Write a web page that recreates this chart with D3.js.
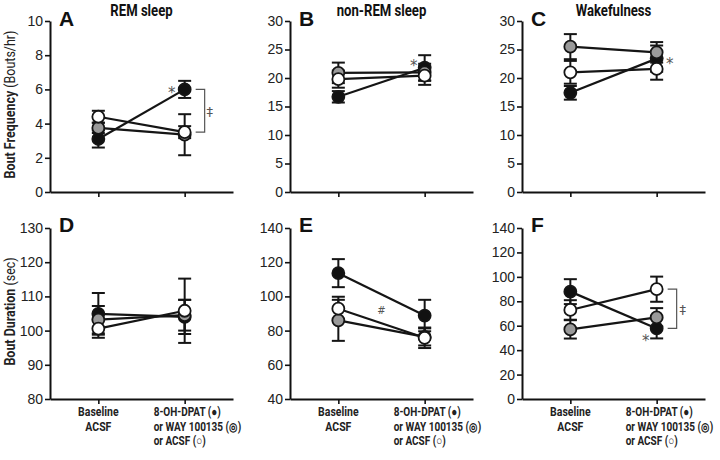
<!DOCTYPE html>
<html>
<head>
<meta charset="utf-8">
<script src="https://cdn.jsdelivr.net/npm/d3@7"></script>
<style>
	body { margin: 0; background: #fff; }
	.cond { font-family: "Roboto", "Open Sans", sans-serif; }
</style>
</head>
<body>
<script>
// DATA

var panels = ['A', 'B', 'C', 'D', 'E', 'F'];
var titles = ['REM sleep', 'non-REM sleep', 'Wakefulness'];
var conditions = ['Baseline', 'Post'];

// y tick values per panel (first/last = axis domain)
var yTicks = [
	[0, 2, 4, 6, 8, 10],
	[0, 5, 10, 15, 20, 25, 30],
	[0, 5, 10, 15, 20, 25, 30],
	[80, 90, 100, 110, 120, 130],
	[40, 60, 80, 100, 120, 140],
	[0, 20, 40, 60, 80, 100, 120, 140]
];

// 8-OH-DPAT (black)
var dpatMean = [[3.1, 6.0], [16.7, 21.8], [17.4, 23.4], [104.9, 104.0], [113.6, 88.8], [87.9, 57.8]];
var dpatErr  = [[0.5, 0.5], [1.0, 2.2], [1.2, 2.3], [6.1, 5.0], [8.2, 9.2], [10.2, 8.2]];
// WAY 100135 (gray)
var wayMean = [[3.75, 3.35], [20.9, 21.0], [25.5, 24.5], [103.2, 104.5], [86.0, 76.3], [57.0, 66.9]];
var wayErr  = [[0.3, 1.2], [1.8, 1.5], [2.2, 1.8], [4.0, 4.5], [12.0, 5.0], [7.5, 7.5]];
// ACSF (white)
var acsfMean = [[4.4, 3.5], [19.8, 20.4], [21.0, 21.6], [100.6, 105.8], [92.8, 75.8], [72.9, 89.9]];
var acsfErr  = [[0.35, 0.35], [1.5, 1.6], [2.0, 1.9], [2.7, 9.4], [7.0, 6.0], [8.0, 10.3]];

var yLabels = [['Bout Frequency', ' (Bouts/hr)'], ['Bout Duration', ' (sec)']];
var xLabelBase = ['Baseline', 'ACSF'];
var xLabelPost = ['8-OH-DPAT (\u25CF)', 'or WAY 100135 (\u25CE)', 'or ACSF (\u25CB)'];

// significance marks: panel, text, condition, value
var marks = [
	{ p: 0, t: '*', c: 1, v: 6.0, dx: -13, dy: 9 },
	{ p: 0, t: '\u2021', c: 1, v: 4.75, dx: 25, dy: 5 },
	{ p: 1, t: '*', c: 1, v: 21.8, dx: -11, dy: 3 },
	{ p: 2, t: '*', c: 1, v: 23.4, dx: 13, dy: 10 },
	{ p: 4, t: '#', c: 0.5, v: 92, dx: 0, dy: 4 },
	{ p: 5, t: '*', c: 1, v: 57.8, dx: -11, dy: 18 },
	{ p: 5, t: '\u2021', c: 1, v: 74, dx: 26, dy: 5 }
];
// brackets: panel, from value, to value
var brackets = [
	{ p: 0, a: 6.0, b: 3.5 },
	{ p: 5, a: 89.9, b: 57.8 }
];

var series = [
	{ mean: dpatMean, err: dpatErr, fill: '#111' },
	{ mean: wayMean, err: wayErr, fill: '#9a9a9a' },
	{ mean: acsfMean, err: acsfErr, fill: '#fff' }
];

// LAYOUT

var colX = [50, 290, 522];
var rowY = [21, 228];
var plotW = 183, plotH = 171;

var svg = d3.select('body').append('svg')
	.attr('width', 720)
	.attr('height', 460);

// narrow text: squeeze horizontally since no condensed font is installed
function narrow(sel, x, y, rot, sx) {
	return sel.attr('transform', 'translate(' + x + ',' + y + ')' + (rot ? ' rotate(' + rot + ')' : '') + ' scale(' + sx + ',1)');
}

panels.forEach(function(letter, i) {
	var col = i % 3, row = Math.floor(i / 3);
	var x0 = colX[col], y0 = rowY[row];
	var ticks = yTicks[i];

	var x = d3.scalePoint()
		.domain(conditions)
		.range([x0, x0 + plotW])
		.padding(0.56);
	var xPos = function(c) { return x(conditions[0]) + c * (x(conditions[1]) - x(conditions[0])); };

	var y = d3.scaleLinear()
		.domain([ticks[0], ticks[ticks.length - 1]])
		.range([y0 + plotH, y0]);

	var g = svg.append('g');

	// axes
	var ya = g.append('g')
		.attr('transform', 'translate(' + x0 + ',0)')
		.call(d3.axisLeft(y).tickValues(ticks).tickSize(5).tickSizeOuter(0).tickPadding(2));
	var xa = g.append('g')
		.attr('transform', 'translate(0,' + (y0 + plotH) + ')')
		.call(d3.axisBottom(x).tickSize(5).tickSizeOuter(0).tickFormat(''));
	[ya, xa].forEach(function(a) {
		a.select('.domain').attr('stroke', '#111').attr('stroke-width', 2);
		a.selectAll('.tick line').attr('stroke', '#111').attr('stroke-width', 1.6);
	});
	ya.selectAll('.tick text')
		.attr('font-family', 'Liberation Sans, Arial, sans-serif')
		.attr('font-size', 14)
		.attr('fill', '#222');

	// lines
	var line = d3.line()
		.x(function(d, j) { return x(conditions[j]); })
		.y(function(d) { return y(d); });
	series.forEach(function(s) {
		g.append('path')
			.attr('d', line(s.mean[i]))
			.attr('fill', 'none')
			.attr('stroke', '#151515')
			.attr('stroke-width', 2.2);
	});

	// error bars
	series.forEach(function(s) {
		s.mean[i].forEach(function(m, j) {
			var cx = x(conditions[j]), e = s.err[i][j];
			var eg = g.append('g').attr('stroke', '#151515').attr('stroke-width', 2);
			eg.append('line').attr('x1', cx).attr('x2', cx).attr('y1', y(m - e)).attr('y2', y(m + e));
			[m - e, m + e].forEach(function(v) {
				eg.append('line').attr('x1', cx - 6.5).attr('x2', cx + 6.5).attr('y1', y(v)).attr('y2', y(v));
			});
		});
	});

	// markers
	series.forEach(function(s) {
		g.selectAll(null)
			.data(s.mean[i])
			.enter().append('circle')
			.attr('cx', function(d, j) { return x(conditions[j]); })
			.attr('cy', function(d) { return y(d); })
			.attr('r', 6)
			.attr('fill', s.fill)
			.attr('stroke', '#151515')
			.attr('stroke-width', 1.8);
	});

	// panel letter
	g.append('text')
		.attr('x', x0 + 9)
		.attr('y', row === 0 ? 26 : 232)
		.attr('font-family', 'Liberation Sans, Arial, sans-serif')
		.attr('font-weight', 'bold')
		.attr('font-size', 21)
		.attr('fill', '#111')
		.text(letter);

	// column title
	if (row === 0) {
		narrow(g.append('text'), x0 + plotW / 2, 16, 0, 0.82)
			.attr('class', 'cond')
			.attr('text-anchor', 'middle')
			.attr('font-weight', 'bold')
			.attr('font-size', 16)
			.attr('fill', '#111')
			.text(titles[col]);
	}

	// x labels on bottom row
	if (row === 1) {
		xLabelBase.forEach(function(t, k) {
			narrow(g.append('text'), x(conditions[0]), 416 + k * 14.5, 0, 0.84)
				.attr('class', 'cond')
				.attr('text-anchor', 'middle')
				.attr('font-weight', 'bold')
				.attr('font-size', 12.5)
				.attr('fill', '#222')
				.text(t);
		});
		xLabelPost.forEach(function(t, k) {
			narrow(g.append('text'), x(conditions[1]) - 31, 416 + k * 14.5, 0, 0.8)
				.attr('class', 'cond')
				.attr('font-weight', 'bold')
				.attr('font-size', 12.5)
				.attr('fill', '#222')
				.text(t);
		});
	}

	// y label on first column
	if (col === 0) {
		var lt = narrow(g.append('text'), 15, y0 + plotH / 2 - 2, -90, 0.86)
			.attr('class', 'cond')
			.attr('text-anchor', 'middle')
			.attr('font-size', 14.5)
			.attr('fill', '#222');
		lt.append('tspan').attr('font-weight', 'bold').text(yLabels[row][0]);
		lt.append('tspan').text(yLabels[row][1]);
	}

	// brackets
	brackets.filter(function(b) { return b.p === i; }).forEach(function(b) {
		var bx = x(conditions[1]);
		g.append('path')
			.attr('d', 'M' + (bx + 11) + ',' + y(b.a) + 'H' + (bx + 20) + 'V' + y(b.b) + 'H' + (bx + 11))
			.attr('fill', 'none')
			.attr('stroke', '#555')
			.attr('stroke-width', 1.2);
	});

	// significance marks (scale keeps them grayscale-antialiased)
	marks.filter(function(m) { return m.p === i; }).forEach(function(m) {
		narrow(g.append('text'), xPos(m.c) + m.dx, y(m.v) + m.dy, 0, 0.999)
			.attr('text-anchor', 'middle')
			.attr('font-family', 'DejaVu Sans, sans-serif')
			.attr('font-size', m.t === '#' ? 10 : (m.t === '*' ? 15 : 13))
			.attr('fill', '#555')
			.text(m.t);
	});
});
</script>
</body>
</html>
